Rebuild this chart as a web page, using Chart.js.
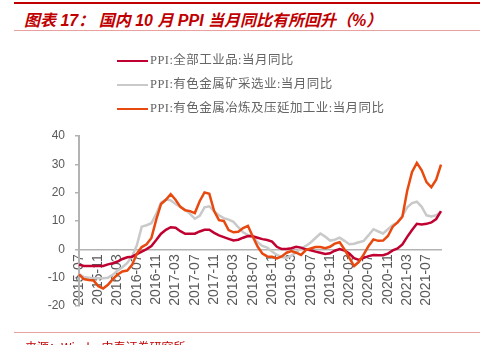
<!DOCTYPE html>
<html>
<head>
<meta charset="utf-8">
<script src="https://cdn.jsdelivr.net/npm/chart.js@4"></script>
<style>
  body { margin: 0; width: 480px; height: 345px; overflow: hidden; position: relative; background: #fff; }
  #chart { position: absolute; left: 0; top: 0; }
  .rule-top { position: absolute; left: 14px; right: 0; top: 2px; height: 2px; background: #c00000; }
  .rule-thin { position: absolute; left: 14px; right: 0; height: 1px; background: #e8a0a0; }
  .title { position: absolute; left: 24px; top: 7px; font: italic bold 16px "Liberation Sans", "Noto Sans CJK SC", sans-serif; color: #c00000; white-space: nowrap; }
  .legend { position: absolute; left: 117px; top: 50px; font: 12.5px "Liberation Serif", "Noto Sans CJK SC", serif; letter-spacing: 0.45px; color: #666; }
  .legend div { position: relative; height: 24px; line-height: 20px; white-space: nowrap; }
  .legend span.swatch { display: inline-block; width: 31px; height: 2.5px; vertical-align: middle; margin-right: 2px; }
  .source { position: absolute; left: 25px; top: 338px; font: 12px "Noto Sans CJK SC", sans-serif; color: #c00000; white-space: nowrap; }
</style>
</head>
<body>
<div class="rule-top"></div>
<div class="title">图表 17： 国内 10 月 PPI 当月同比有所回升（%）</div>
<div class="rule-thin" style="top:30px"></div>
<canvas id="chart" width="480" height="345"></canvas>
<div class="legend" id="legend"></div>
<div class="rule-thin" style="top:332px"></div>
<div class="source">来源：Wind，中泰证券研究所</div>
<script>
// monthly, 2015-07 .. 2021-10
const months = [
  '2015-07','2015-08','2015-09','2015-10','2015-11','2015-12',
  '2016-01','2016-02','2016-03','2016-04','2016-05','2016-06','2016-07','2016-08','2016-09','2016-10','2016-11','2016-12',
  '2017-01','2017-02','2017-03','2017-04','2017-05','2017-06','2017-07','2017-08','2017-09','2017-10','2017-11','2017-12',
  '2018-01','2018-02','2018-03','2018-04','2018-05','2018-06','2018-07','2018-08','2018-09','2018-10','2018-11','2018-12',
  '2019-01','2019-02','2019-03','2019-04','2019-05','2019-06','2019-07','2019-08','2019-09','2019-10','2019-11','2019-12',
  '2020-01','2020-02','2020-03','2020-04','2020-05','2020-06','2020-07','2020-08','2020-09','2020-10','2020-11','2020-12',
  '2021-01','2021-02','2021-03','2021-04','2021-05','2021-06','2021-07','2021-08','2021-09','2021-10'
];

// labelled months on the x axis
const tickLabels = [
  '2015-07','2015-11','2016-03','2016-07','2016-11','2017-03','2017-07','2017-11','2018-03',
  '2018-07','2018-11','2019-03','2019-07','2019-11','2020-03','2020-07','2020-11','2021-03','2021-07'
];

const yTicks = [-20, -10, 0, 10, 20, 30, 40];

// PPI: 全部工业品
const ppiAll = [
  -5.4, -5.9, -5.9, -5.9, -5.9, -5.9,
  -5.3, -4.9, -4.3, -3.4, -2.8, -2.6, -1.7, -0.8, 0.1, 1.2, 3.3, 5.5,
  6.9, 7.8, 7.6, 6.4, 5.5, 5.5, 5.5, 6.3, 6.9, 6.9, 5.8, 4.9,
  4.3, 3.7, 3.1, 3.4, 4.1, 4.7, 4.6, 4.1, 3.6, 3.3, 2.7, 0.9,
  0.1, 0.1, 0.4, 0.9, 0.6, 0.0, -0.3, -0.8, -1.2, -1.6, -1.4, -0.5,
  0.1, -0.4, -1.5, -3.1, -3.7, -3.0, -2.4, -2.0, -2.1, -2.1, -1.5, -0.4,
  0.3, 1.7, 4.4, 6.8, 9.0, 8.8, 9.0, 9.5, 10.7, 13.5
];

// PPI: 有色金属矿采选业
const ppiMining = [
  -8.7, -9.8, -10.0, -10.2, -10.2, -10.2,
  -10.0, -9.0, -7.5, -6.3, -4.8, -2.5, 1.5, 8.0, 8.5, 9.2, 12.5, 16.5,
  17.6, 17.3, 16.0, 15.0, 14.0, 12.5, 10.8, 11.8, 14.8, 15.2, 13.5, 12.0,
  11.0, 10.5, 9.7, 7.8, 6.0, 5.0, 4.5, 2.5, 1.2, 0.6, -0.8, -2.0,
  -2.7, -3.0, -2.2, -1.0, 0.3, 1.2, 2.4, 4.0, 5.6, 4.5, 3.1, 3.4,
  4.1, 3.0, 1.8, 2.0, 2.5, 3.0, 5.0, 7.1, 6.3, 5.6, 7.1, 8.6,
  9.5, 11.8, 14.8, 16.3, 16.8, 15.0, 12.0, 11.6, 12.0, 13.2
];

// PPI: 有色金属冶炼及压延加工业
const ppiSmelting = [
  -8.8, -10.5, -10.8, -11.0, -13.0, -13.8,
  -12.5, -10.5, -8.9, -7.8, -7.5, -5.5, -1.5, 0.8, 1.8, 4.0, 10.5, 16.0,
  17.5, 19.5, 17.5, 15.0, 13.8, 13.5, 12.8, 17.0, 20.1, 19.6, 13.5, 10.3,
  10.0, 6.8, 6.0, 6.2, 7.5, 8.3, 4.5, 1.0, -1.5, -2.5, -2.6, -3.2,
  -2.5, -1.2, -0.6, -1.2, -2.0, -0.3, 0.3, 0.8, 0.8, 0.4, 0.9, 2.0,
  2.5, 0.0, -3.0, -5.9, -4.4, -1.8, 1.2, 3.5, 3.0, 3.1, 4.7, 8.0,
  9.5, 11.5, 20.7, 27.3, 30.5, 27.9, 23.7, 21.9, 24.6, 29.9
];

const series = [
  { name: 'PPI:全部工业品:当月同比', data: ppiAll, color: '#c00030', order: 1 },
  { name: 'PPI:有色金属矿采选业:当月同比', data: ppiMining, color: '#c9c9c9', order: 2 },
  { name: 'PPI:有色金属冶炼及压延加工业:当月同比', data: ppiSmelting, color: '#e8490f', order: 0 }
];

// legend block above the plot
const legendEl = document.getElementById('legend');
series.forEach(s => {
  const row = document.createElement('div');
  row.innerHTML = '<span class="swatch" style="background:' + s.color + '"></span>' + s.name;
  legendEl.appendChild(row);
});

const axisGray = '#b3b3b3';

new Chart(document.getElementById('chart'), {
  type: 'line',
  data: {
    labels: months,
    datasets: series.map(s => ({
      label: s.name,
      data: s.data,
      borderColor: s.color,
      backgroundColor: s.color,
      order: s.order
    }))
  },
  options: {
    responsive: false,
    animation: false,
    devicePixelRatio: 1,
    layout: { padding: { left: 0, right: 39, top: 136, bottom: 39 } },
    plugins: { legend: { display: false }, tooltip: { enabled: false } },
    elements: {
      point: { radius: 0 },
      line: { tension: 0, borderWidth: 2.5 }
    },
    scales: {
      x: {
        position: { y: 0 },
        grid: { display: false, drawTicks: false },
        border: { color: axisGray, width: 1.5 },
        ticks: {
          autoSkip: false,
          minRotation: 90,
          maxRotation: 90,
          padding: 5,
          color: '#595959',
          font: { family: 'Liberation Sans', size: 14 },
          callback: (v, i) => tickLabels.includes(months[i]) ? months[i] : null
        },
        afterFit: s => { s.paddingLeft = 0; s.paddingRight = 0; }
      },
      y: {
        min: yTicks[0],
        max: yTicks[yTicks.length - 1],
        afterBuildTicks: s => { s.ticks = yTicks.map(v => ({ value: v })); },
        grid: { drawOnChartArea: false, tickLength: 4, color: axisGray, lineWidth: 1.5 },
        border: { color: axisGray, width: 2 },
        ticks: {
          padding: 10,
          color: '#595959',
          font: { family: 'Liberation Sans', size: 12 }
        },
        afterFit: s => { s.width = 79; s.paddingTop = 0; s.paddingBottom = 0; }
      }
    }
  }
});
</script>
</body>
</html>
